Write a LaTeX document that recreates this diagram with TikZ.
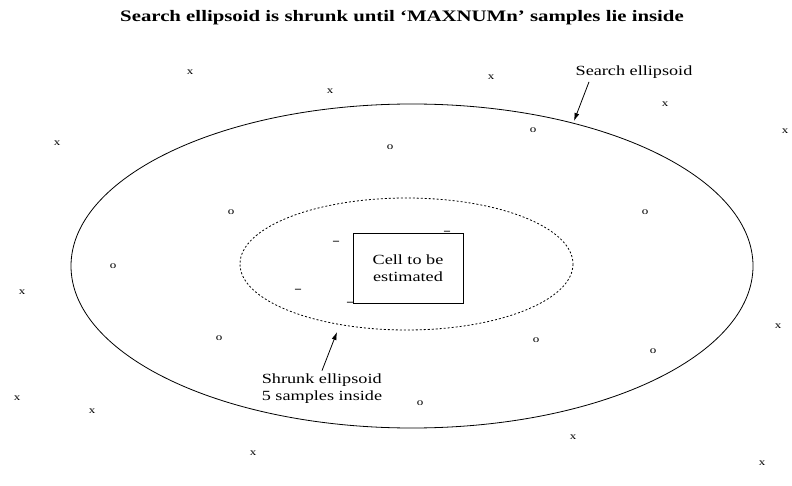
\documentclass[tikz,border=0pt]{standalone}
\usepackage{fontspec}
\setmainfont{Liberation Serif}
\newfontfamily\scanfont[FakeStretch=1.3, Ligatures=TeX]{Liberation Serif}
\usetikzlibrary{arrows.meta}

\begin{document}
\begin{tikzpicture}[x=1pt, y=-1pt,
  every node/.style={font=\scanfont\fontsize{14}{17}\selectfont},
  sample/.style={inner sep=0pt, font=\scanfont\fontsize{10}{10}\selectfont},
  inmark/.style={inner sep=0pt, font=\fontsize{12}{12}\selectfont\bfseries},
  cellbox/.style={draw, thick, minimum width=110pt, minimum height=70pt, align=center, inner sep=2pt},
  pointer/.style={-{Latex[length=8pt,width=5pt]}, thick}
]
  \useasboundingbox (0,0) rectangle (792,486);

  \node[font=\scanfont\fontsize{16}{19}\selectfont\bfseries] (title) at (402,18)
    {Search ellipsoid is shrunk until ‘MAXNUMn’ samples lie inside};

  % ellipsoids
  \draw[thick] (412,266) ellipse [x radius=341, y radius=162];
  \draw[thick, dash pattern=on 2pt off 2pt] (406.5,264) ellipse [x radius=166.5, y radius=66];

  \node[cellbox] (cell) at (408,268) {Cell to be\\estimated};

  % samples inside the shrunk ellipsoid
  \node[inmark] (in1) at (336,243) {--};
  \node[inmark] (in2) at (298,291) {--};
  \node[inmark] (in3) at (447,233) {--};
  \node[inmark] (in4) at (350,304) {--};

  % samples inside the search ellipsoid
  \node[sample] (o1) at (390,147) {o};
  \node[sample] (o2) at (533,130) {o};
  \node[sample] (o3) at (231,212) {o};
  \node[sample] (o4) at (645,212) {o};
  \node[sample] (o5) at (113,266) {o};
  \node[sample] (o6) at (219,338) {o};
  \node[sample] (o7) at (536,340) {o};
  \node[sample] (o8) at (653,351) {o};
  \node[sample] (o9) at (420,403) {o};

  % samples outside
  \node[sample] (x1) at (190,72) {x};
  \node[sample] (x2) at (330,91) {x};
  \node[sample] (x3) at (491,77) {x};
  \node[sample] (x4) at (665,104) {x};
  \node[sample] (x5) at (57,143) {x};
  \node[sample] (x6) at (785,131) {x};
  \node[sample] (x7) at (22,292) {x};
  \node[sample] (x8) at (778,326) {x};
  \node[sample] (x9) at (17,398) {x};
  \node[sample] (x10) at (92,411) {x};
  \node[sample] (x11) at (573,437) {x};
  \node[sample] (x12) at (253,453) {x};
  \node[sample] (x13) at (762,463) {x};

  % labels and pointers
  \node (search) at (634,72) {Search ellipsoid};
  \coordinate (searchtip) at (574,121);
  \draw[pointer] ([xshift=-45pt]search.south) -- (searchtip);

  \node[align=left] (shrunk) at (322,389) {Shrunk ellipsoid\\5 samples inside};
  \coordinate (shrunktip) at (337,332);
  \draw[pointer] (shrunk.north) -- (shrunktip);
\end{tikzpicture}
\end{document}
